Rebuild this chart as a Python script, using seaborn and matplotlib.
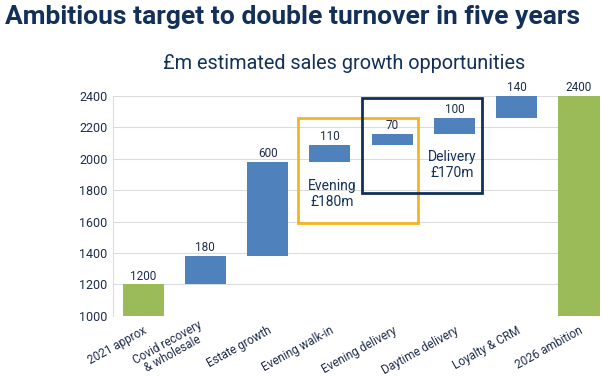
import matplotlib
matplotlib.use("Agg")
import matplotlib.pyplot as plt
import matplotlib.transforms as mtransforms
import seaborn as sns
import pandas as pd
from matplotlib.patches import Rectangle

categories = ["2021 approx", "Covid recovery\n& wholesale", "Estate growth", "Evening walk-in",
              "Evening delivery", "Daytime delivery", "Loyalty & CRM", "2026 ambition"]
values = [1200, 180, 600, 110, 70, 100, 140, 2400]
kinds = ["total", "step", "step", "step", "step", "step", "step", "total"]
y_ticks = [1000, 1200, 1400, 1600, 1800, 2000, 2200, 2400]
title = "Ambitious target to double turnover in five years"
subtitle = "£m estimated sales growth opportunities"

BLUE = "#4f81bd"
GREEN = "#9bbb59"
NAVY = "#12305a"
TXT = "#1f2d4d"
ORANGE = "#f6b324"

# waterfall bases and heights
bases, heights = [], []
running = 0
for v, k in zip(values, kinds):
    if k == "total":
        bases.append(1000)
        heights.append(v - 1000)
        running = v
    else:
        bases.append(running)
        heights.append(v)
        running += v

df = pd.DataFrame({"cat": categories, "h": heights})
colors = [GREEN if k == "total" else BLUE for k in kinds]

sns.set_theme(style="white")
plt.rcParams["font.family"] = ["Roboto", "DejaVu Sans"]

fig = plt.figure(figsize=(6.02, 3.76), dpi=100)
ax = fig.add_axes([0.188, 0.160, 0.809, 0.585])

sns.barplot(data=df, x="cat", y="h", order=categories, color=BLUE, width=0.66,
            bottom=bases, ax=ax, saturation=1, linewidth=0, errorbar=None)
for p, c in zip(ax.patches, colors):
    p.set_facecolor(c)

ax.set_ylim(1000, 2400)
ax.set_xlim(-0.48, 7.34)
ax.set_yticks(y_ticks)
ax.set_yticklabels([str(t) for t in y_ticks], fontsize=9, color=TXT)
ax.yaxis.grid(True, color="#dcdcdc", linewidth=0.8)
ax.set_axisbelow(True)
for s in ["top", "right", "bottom"]:
    ax.spines[s].set_visible(False)
ax.spines["left"].set_color("#dcdcdc")
ax.spines["left"].set_linewidth(0.8)
ax.tick_params(axis="y", length=0, pad=4)
ax.tick_params(axis="x", length=0, pad=6)
ax.set_xlabel("")
ax.set_ylabel("")
ax.set_xticks(range(len(categories)))
ax.set_xticklabels(categories, rotation=29, ha="right", rotation_mode="anchor",
                   fontsize=8.5, color=TXT, multialignment="center", linespacing=0.95)
# the two-line label sits a little left of its tick in the reference
lbl = ax.get_xticklabels()[1]
lbl.set_transform(lbl.get_transform() +
                  mtransforms.ScaledTranslation(-8 / 100, 6 / 100, fig.dpi_scale_trans))

# value labels
for i, (b, h, v) in enumerate(zip(bases, heights, values)):
    ax.text(i, b + h + 12, str(v), ha="center", va="bottom", fontsize=8.5, color=TXT)

# highlight boxes
ax.add_patch(Rectangle((2.49, 1590), 4.41 - 2.49, 2262 - 1590, fill=False,
                       edgecolor=ORANGE, linewidth=2, clip_on=False, zorder=5))
ax.add_patch(Rectangle((3.52, 1782), 5.44 - 3.52, 2388 - 1782, fill=False,
                       edgecolor=NAVY, linewidth=2, clip_on=False, zorder=6))
ax.text(3.03, 1776, "Evening\n£180m", ha="center", va="center", fontsize=10, color=NAVY,
        linespacing=1.15)
ax.text(4.96, 1962, "Delivery\n£170m", ha="center", va="center", fontsize=10, color=NAVY,
        linespacing=1.15)

fig.text(0.008, 0.955, title, ha="left", va="center", fontsize=19, fontweight="semibold",
         color=NAVY)
fig.text(0.572, 0.832, subtitle, ha="center", va="center", fontsize=14.3, color=NAVY)

fig.savefig("out.png", dpi=100)
